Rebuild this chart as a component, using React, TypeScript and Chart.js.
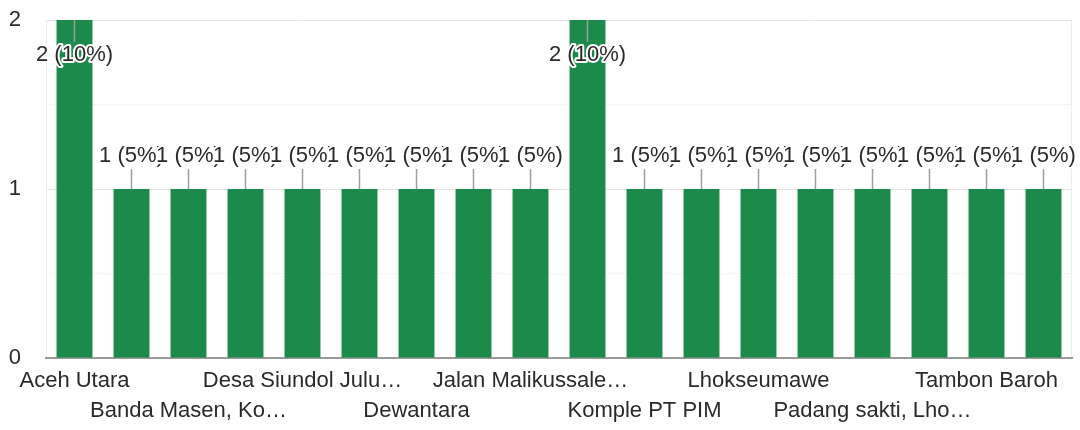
import React, { useEffect, useRef } from "react";
import { Chart, registerables } from "chart.js";

Chart.register(...registerables);

// Category labels as shown on the axis (hidden ones unreadable in the reference)
const categories: string[] = [
  "Aceh Utara",
  "",
  "Banda Masen, Ko…",
  "",
  "Desa Siundol Julu…",
  "",
  "Dewantara",
  "",
  "Jalan Malikussale…",
  "",
  "Komple PT PIM",
  "",
  "Lhokseumawe",
  "",
  "Padang sakti, Lho…",
  "",
  "Tambon Baroh",
  "",
];

const counts: number[] = [2, 1, 1, 1, 1, 1, 1, 1, 1, 2, 1, 1, 1, 1, 1, 1, 1, 1];
const percents: number[] = [10, 5, 5, 5, 5, 5, 5, 5, 5, 10, 5, 5, 5, 5, 5, 5, 5, 5];

const yTickLabels: number[] = [0, 1, 2];

const FONT = "'Liberation Sans', Arial, sans-serif";
const BAR_COLOR = "#1b8a4b";
const TEXT_COLOR = "#2a2a2a";

const annotationPlugin = {
  id: "annotations",
  beforeDraw(chart: any) {
    const { ctx, chartArea } = chart;
    ctx.save();
    ctx.strokeStyle = "#eeeeee";
    ctx.lineWidth = 1;
    ctx.beginPath();
    ctx.moveTo(chartArea.left + 0.5, chartArea.top);
    ctx.lineTo(chartArea.left + 0.5, chartArea.bottom);
    ctx.moveTo(chartArea.right - 0.5, chartArea.top);
    ctx.lineTo(chartArea.right - 0.5, chartArea.bottom);
    ctx.stroke();
    ctx.restore();
  },
  afterDatasetsDraw(chart: any) {
    const { ctx, chartArea } = chart;
    const meta = chart.getDatasetMeta(0);
    ctx.save();
    ctx.font = `22px ${FONT}`;
    ctx.textAlign = "center";
    ctx.textBaseline = "middle";
    meta.data.forEach((bar: any, i: number) => {
      const x = bar.x;
      const y = bar.y;
      const text = `${counts[i]} (${percents[i]}%)`;
      const inside = y - chartArea.top < 40;
      let y1: number, y2: number, ty: number;
      if (inside) {
        y1 = y;
        y2 = y + 22;
        ty = y + 35;
      } else {
        y1 = y - 20;
        y2 = y;
        ty = y - 33;
      }
      ctx.strokeStyle = "#9e9e9e";
      ctx.lineWidth = 1.5;
      ctx.beginPath();
      ctx.moveTo(x, y1);
      ctx.lineTo(x, y2);
      ctx.stroke();
      ctx.lineJoin = "round";
      ctx.strokeStyle = "#ffffff";
      ctx.lineWidth = 4;
      ctx.strokeText(text, x, ty);
      ctx.fillStyle = TEXT_COLOR;
      ctx.fillText(text, x, ty);
    });
    ctx.restore();
  },
};

export default function App() {
  const canvasRef = useRef<HTMLCanvasElement | null>(null);

  useEffect(() => {
    if (!canvasRef.current) return;
    const chart = new Chart(canvasRef.current, {
      type: "bar",
      data: {
        labels: categories,
        datasets: [
          {
            data: counts,
            backgroundColor: BAR_COLOR,
            borderWidth: 0,
            categoryPercentage: 1,
            barPercentage: 0.63,
          },
        ],
      },
      options: {
        animation: false,
        responsive: false,
        maintainAspectRatio: false,
        layout: { padding: { top: 20, right: 8, left: 0, bottom: 0 } },
        plugins: {
          legend: { display: false },
          tooltip: { enabled: false },
        },
        scales: {
          x: {
            grid: { display: false, drawTicks: false },
            border: { color: "#999999", width: 2 },
            ticks: {
              autoSkip: false,
              maxRotation: 0,
              minRotation: 0,
              padding: 8,
              color: TEXT_COLOR,
              font: { family: FONT, size: 22, lineHeight: 1.36 },
              callback: (_v: any, index: number) => {
                const l = categories[index];
                if (!l) return "";
                return (index / 2) % 2 === 0 ? l : ["", l];
              },
            },
            afterFit: (scale: any) => {
              scale.height = 72;
              scale.paddingTop = 0;
              scale.paddingBottom = 0;
            },
          },
          y: {
            min: 0,
            max: 2,
            grid: {
              drawTicks: false,
              color: (c: any) =>
                Number.isInteger(c.tick.value) ? "#e6e6e6" : "#f3f3f3",
            },
            border: { display: false },
            ticks: {
              stepSize: 0.5,
              padding: 25,
              color: TEXT_COLOR,
              font: { family: FONT, size: 22 },
              callback: (v: any) =>
                yTickLabels.includes(Number(v)) ? String(v) : "",
            },
            afterFit: (scale: any) => {
              scale.width = 46;
              scale.paddingTop = 0;
              scale.paddingBottom = 0;
            },
          },
        },
      },
      plugins: [annotationPlugin],
    });
    return () => chart.destroy();
  }, []);

  return (
    <div
      style={{
        position: "fixed",
        left: 0,
        top: 0,
        width: 1080,
        height: 430,
        background: "#ffffff",
      }}
    >
      <canvas ref={canvasRef} width={1080} height={430} />
    </div>
  );
}
